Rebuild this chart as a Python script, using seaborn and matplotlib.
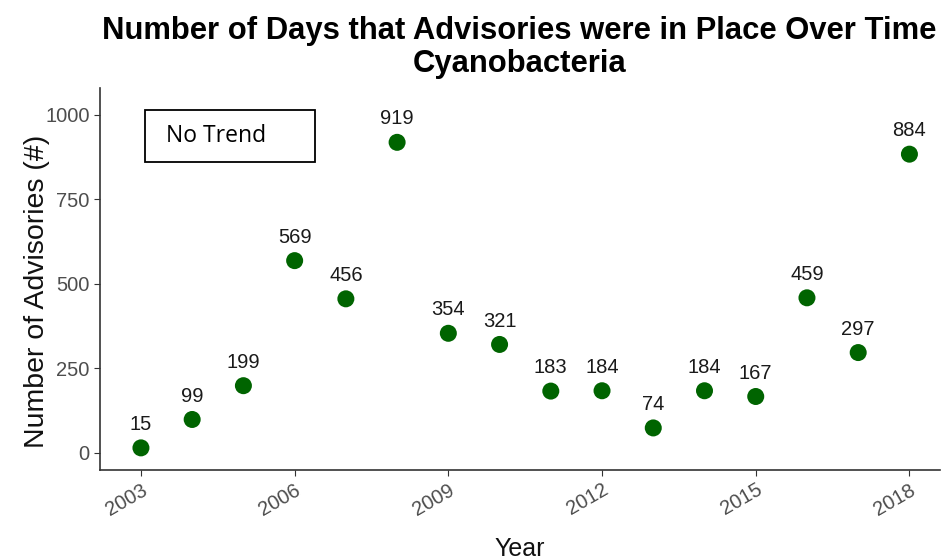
import matplotlib
matplotlib.use("Agg")
import matplotlib.pyplot as plt
from matplotlib.patches import Rectangle
import seaborn as sns
import pandas as pd

years = list(range(2003, 2019))
advisories = [15, 99, 199, 569, 456, 919, 354, 321, 183, 184, 74, 184, 167, 459, 297, 884]
year_ticks = [2003, 2006, 2009, 2012, 2015, 2018]
y_ticks = [0, 250, 500, 750, 1000]

df = pd.DataFrame({"Year": years, "Advisories": advisories})

sns.set_style("ticks")
plt.rcParams['font.family'] = ['Liberation Sans', 'DejaVu Sans']

fig = plt.figure(figsize=(9.43, 5.6), dpi=100)
ax = fig.add_axes([0.106, 0.161, 0.891, 0.682])

sns.scatterplot(data=df, x="Year", y="Advisories", ax=ax, color="#006400",
                s=150, edgecolor="none", zorder=3)

for x, y in zip(years, advisories):
    ax.annotate(str(y), (x, y), xytext=(0, 10), textcoords="offset points",
                ha="center", va="bottom", fontsize=14.5, color="#1a1a1a")

ax.set_xlim(2002.2, 2018.6)
ax.set_ylim(-50, 1080)
ax.set_xticks(year_ticks)
ax.set_yticks(y_ticks)
ax.tick_params(axis="both", labelsize=14.5, labelcolor="#4d4d4d", color="#333333", length=4)
for lab in ax.get_xticklabels():
    lab.set_rotation(30)
    lab.set_ha("right")
    lab.set_rotation_mode("anchor")
sns.despine(ax=ax)
for sp in ["left", "bottom"]:
    ax.spines[sp].set_color("#333333")
    ax.spines[sp].set_linewidth(1.2)

ax.set_xlabel("Year", fontsize=18, color="#111111", labelpad=13)
ax.set_ylabel("Number of Advisories (#)", fontsize=20.5, color="#111111")
ax.yaxis.set_label_coords(-0.06, 0.466)

fig.text(0.551, 0.972, "Number of Days that Advisories were in Place Over Time\nCyanobacteria",
         ha="center", va="top", fontsize=22.3, fontweight="bold", linespacing=1.15,
         color="black")

# "No Trend" box
ax.add_patch(Rectangle((0.0536, 0.806), 0.2024, 0.136, transform=ax.transAxes,
                       facecolor="white", edgecolor="black", linewidth=1.3, zorder=4))
ax.text(0.0786, 0.874, "No Trend", transform=ax.transAxes, fontsize=16.5,
        family=["Open Sans", "DejaVu Sans"], ha="left", va="center", zorder=5,
        color="black")

fig.savefig("out.png", dpi=100)
